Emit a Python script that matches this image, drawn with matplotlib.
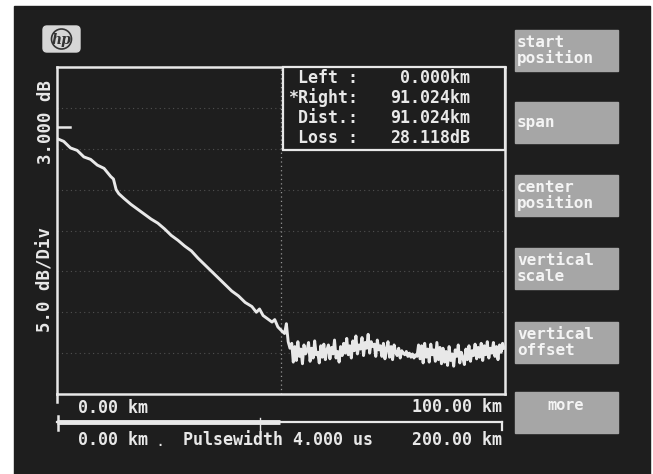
import numpy as np
import matplotlib.pyplot as plt
from matplotlib.patches import Rectangle, FancyBboxPatch, Ellipse

W, H = 653, 474
SCREEN = "#1e1e1e"
INK = "#e8e8e8"
KEY = "#a6a6a6"
MONO = "DejaVu Sans Mono"

# sloped part of the OTDR trace (km, relative dB)
TRACE_KM = [0.2, 1.5, 3.0, 4.5, 6.0, 7.5, 9.0, 10.5, 12.0, 12.6, 13.2, 13.8,
            15.0, 16.5, 18.0, 19.5, 21.0, 22.5, 24.0, 25.5, 27.0, 28.5, 30.0,
            31.5, 33.0, 34.5, 36.0, 37.5, 39.0, 40.5, 42.0, 43.5, 44.5, 45.2,
            46.0, 47.0, 48.0, 48.6, 49.3, 50.2, 50.8, 51.2, 51.6, 52.0]
TRACE_DB = [31.2, 30.9, 30.1, 29.8, 29.0, 28.7, 28.0, 27.6, 26.6, 26.3, 25.0, 24.5,
            23.9, 23.2, 22.6, 22.0, 21.4, 20.9, 20.2, 19.4, 18.8, 18.1, 17.5,
            16.6, 15.8, 15.0, 14.2, 13.4, 12.6, 12.0, 11.2, 10.7, 10.0, 10.4,
            9.6, 9.2, 8.8, 9.1, 8.2, 7.7, 7.4, 8.6, 6.4, 5.6]
# noise floor after the fibre end, read sample by sample
NOISE_DB = [6.2, 3.9, 5.8, 4.1, 6.4, 4.6, 5.5, 3.7, 6.0, 4.9, 5.3, 6.3, 4.0, 5.6,
            4.4, 6.5, 4.8, 5.1, 3.8, 5.9, 4.5, 6.1, 4.2, 5.4, 6.0, 4.3, 5.7, 4.9,
            6.6, 4.4, 5.2, 3.9, 5.8, 4.7,
            6.2, 5.0, 6.8, 4.8, 5.9, 4.4, 6.5, 5.3, 7.1, 4.9, 6.0, 5.5, 6.9, 4.7,
            6.3, 5.6, 7.3, 5.0, 6.4, 5.8, 6.1, 4.6, 6.6, 5.4,
            5.9, 4.6, 6.2, 4.3, 5.5, 6.4, 4.5, 5.8, 4.2, 6.0, 5.1, 4.7, 5.6, 4.4,
            5.3, 5.0, 4.8, 5.2, 4.6, 5.0, 4.5, 4.9, 4.4,
            4.8, 4.6, 6.0, 4.3, 5.9, 3.8, 6.2, 4.5, 5.5, 3.9, 6.1, 4.8, 5.4, 4.0,
            6.3, 4.2, 5.7, 3.7,
            5.6, 3.9, 5.2, 3.5, 5.8, 4.1, 4.9, 3.4, 5.4, 4.6, 6.0, 3.8, 5.1, 4.4,
            3.6, 5.5, 4.2, 5.9, 4.0, 5.3, 4.7, 6.1,
            4.3, 5.7, 4.5, 6.2, 4.1, 5.9, 4.8, 6.4, 4.4, 5.6, 5.0, 6.3, 4.6, 5.8,
            4.2, 6.0, 5.1, 6.2, 5.6]
NOISE_START, NOISE_END = 52.4, 99.8

X_START, X_END, X_FULL = 0.0, 100.0, 200.0
DB_RANGE = 40.0
REF_LEVEL = 32.7
DB_PER_DIV = 5.0

READ_LABELS = [" Left :", "*Right:", " Dist.:", " Loss :"]
READ_VALUES = ["0.000km", "91.024km", "91.024km", "28.118dB"]
SOFTKEYS = ["start\nposition", "span", "center\nposition",
            "vertical\nscale", "vertical\noffset", "more"]

fig = plt.figure(figsize=(W / 100, H / 100), dpi=100)
fig.patch.set_facecolor("white")

# background layer in pixel coords
bg = fig.add_axes([0, 0, 1, 1], zorder=0)
bg.set_xlim(0, W); bg.set_ylim(H, 0); bg.axis("off")
bg.add_patch(Rectangle((14, 6), 636, 470, color=SCREEN))

# data axes: plot area 57..505 px wide, 67..394 px tall
L, T, R, B = 57, 67, 505, 394
ax = fig.add_axes([L / W, 1 - B / H, (R - L) / W, (B - T) / H], zorder=1)
ax.set_facecolor("none")
ax.set_xlim(X_START, X_END)
ax.set_ylim(0, DB_RANGE)
for s in ax.spines.values():
    s.set_color(INK); s.set_linewidth(1.8)
ax.set_xticks([]); ax.set_yticks([])
for lev in np.arange(DB_PER_DIV, DB_RANGE, DB_PER_DIV):
    ax.axhline(lev, color=INK, lw=0.8, ls=(0, (1, 3)), alpha=0.25)
ax.axvline((X_START + X_END) / 2, color=INK, lw=0.9, ls=(0, (1, 2.5)), alpha=0.6)
ax.plot([X_START, 3.0], [REF_LEVEL, REF_LEVEL], color=INK, lw=1.8)
noise_km = np.linspace(NOISE_START, NOISE_END, len(NOISE_DB))
ax.plot(list(TRACE_KM) + list(noise_km), list(TRACE_DB) + NOISE_DB,
        color=INK, lw=2.1, solid_joinstyle="round")

# foreground layer in pixel coords
fg = fig.add_axes([0, 0, 1, 1], zorder=2)
fg.set_facecolor("none")
fg.set_xlim(0, W); fg.set_ylim(H, 0); fg.axis("off")

# hp logo
fg.add_patch(FancyBboxPatch((43, 26), 37, 26, boxstyle="round,pad=0,rounding_size=4",
                            color="#d6d6d6"))
fg.add_patch(Ellipse((61.5, 39), 20, 20, fill=False, ec="#333333", lw=1.2))
fg.text(61.5, 39.5, "hp", family="DejaVu Serif", style="italic", weight="bold",
        fontsize=10, color="#333333", ha="center", va="center")

# left axis labels
fg.text(46, 122, "3.000 dB", rotation=90, family=MONO, weight="bold",
        fontsize=12.5, color=INK, ha="center", va="center")
fg.text(46, 280, "%.1f dB/Div" % DB_PER_DIV, rotation=90, family=MONO, weight="bold",
        fontsize=12.5, color=INK, ha="center", va="center")
fg.plot([L, L], [B, 402], color=INK, lw=1.8)

# cursor readout box
fg.add_patch(Rectangle((283, 67), 222, 83, fc=SCREEN, ec=INK, lw=1.6))
for i, (lab, val) in enumerate(zip(READ_LABELS, READ_VALUES)):
    y = 78 + 20 * i
    fg.text(288, y, lab, family=MONO, weight="bold", fontsize=12, color=INK,
            ha="left", va="center")
    fg.text(470, y, val, family=MONO, weight="bold", fontsize=12, color=INK,
            ha="right", va="center")

# x-range labels
fg.text(78, 408, "%.2f km" % X_START, family=MONO, weight="bold", fontsize=12,
        color=INK, ha="left", va="center")
fg.text(502, 407, "%.2f km" % X_END, family=MONO, weight="bold", fontsize=12,
        color=INK, ha="right", va="center")

# full-span indicator bar
x0, x1 = 57, 502
xm = x0 + (x1 - x0) * (X_END - X_START) / X_FULL
fg.plot([x0, x1], [422, 422], color=INK, lw=1.6)
fg.plot([x0, xm], [422, 422], color=INK, lw=3.5, solid_capstyle="butt")
fg.plot([x0 + 1, x0 + 1], [416, 430], color=INK, lw=1.8)
fg.plot([x1, x1], [422, 430], color=INK, lw=1.6)
fg.plot([260, 260], [418, 430], color=INK, lw=1.0)
fg.text(78, 440, "%.2f km" % X_START, family=MONO, weight="bold", fontsize=12,
        color=INK, ha="left", va="center")
fg.text(160, 441, ".", family=MONO, fontsize=11, color=INK, ha="center", va="center")
fg.text(183, 440, "Pulsewidth 4.000 us", family=MONO, weight="bold", fontsize=12,
        color=INK, ha="left", va="center")
fg.text(502, 440, "%.2f km" % X_FULL, family=MONO, weight="bold", fontsize=12,
        color=INK, ha="right", va="center")

# softkeys
key_tops = [30, 102, 175, 248, 322, 392]
for top, lab in zip(key_tops, SOFTKEYS):
    fg.add_patch(Rectangle((515, top), 103, 41, color=KEY))
    if lab == "more":
        fg.text(566, top + 14, lab, family=MONO, weight="bold", fontsize=11,
                color="#f4f4f4", ha="center", va="center")
    else:
        fg.text(517, top + 20.5, lab, family=MONO, weight="bold", fontsize=11.5,
                color="#f4f4f4", ha="left", va="center", linespacing=1.05)

fig.savefig("out.png", dpi=100, facecolor=fig.get_facecolor())
